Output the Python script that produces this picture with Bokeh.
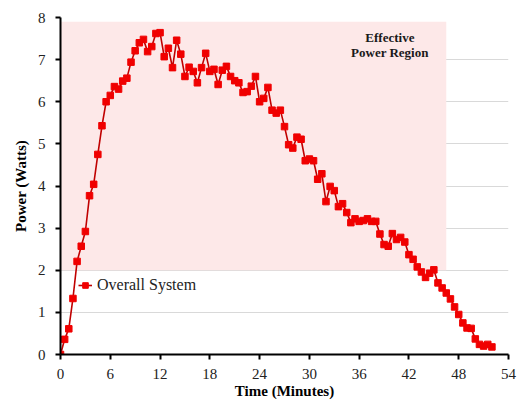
from bokeh.plotting import figure
from bokeh.models import Range1d, FixedTicker, Legend, LegendItem
from bokeh.core.properties import value
from bokeh.embed import file_html
from bokeh.resources import INLINE

time_min = [0, 0.5, 1, 1.5, 2, 2.5, 3, 3.5, 4, 4.5, 5, 5.5, 6, 6.5, 7, 7.5, 8, 8.5, 9, 9.5,
            10, 10.5, 11, 11.5, 12, 12.5, 13, 13.5, 14, 14.5, 15, 15.5, 16, 16.5, 17, 17.5,
            18, 18.5, 19, 19.5, 20, 20.5, 21, 21.5, 22, 22.5, 23, 23.5, 24, 24.5, 25, 25.5,
            26, 26.5, 27, 27.5, 28, 28.5, 29, 29.5, 30, 30.5, 31, 31.5, 32, 32.5, 33, 33.5,
            34, 34.5, 35, 35.5, 36, 36.5, 37, 37.5, 38, 38.5, 39, 39.5, 40, 40.5, 41, 41.5,
            42, 42.5, 43, 43.5, 44, 44.5, 45, 45.5, 46, 46.5, 47, 47.5, 48, 48.5, 49, 49.5,
            50, 50.5, 51, 51.5, 52]
power_w = [0.0, 0.36, 0.61, 1.33, 2.21, 2.57, 2.92, 3.77, 4.04, 4.75, 5.43, 6.00, 6.15, 6.36,
           6.30, 6.49, 6.56, 6.94, 7.21, 7.40, 7.48, 7.19, 7.31, 7.62, 7.64, 7.07, 7.27, 6.81,
           7.46, 7.13, 6.60, 6.82, 6.72, 6.45, 6.81, 7.15, 6.72, 6.77, 6.41, 6.75, 6.84, 6.60,
           6.50, 6.45, 6.22, 6.24, 6.37, 6.60, 6.00, 6.08, 6.34, 5.80, 5.73, 5.80, 5.41, 4.98,
           4.90, 5.16, 5.11, 4.60, 4.64, 4.60, 4.16, 4.29, 3.63, 3.99, 3.89, 3.51, 3.58, 3.37,
           3.13, 3.22, 3.16, 3.18, 3.22, 3.16, 3.16, 2.86, 2.61, 2.57, 2.87, 2.73, 2.78, 2.67,
           2.37, 2.26, 2.08, 1.96, 1.83, 1.93, 2.01, 1.70, 1.58, 1.46, 1.32, 1.13, 0.95, 0.75,
           0.63, 0.62, 0.37, 0.24, 0.20, 0.24, 0.18]

region_x = [0, 46.5]
region_y = [2, 7.9]
region_label_lines = ["Effective", "Power Region"]
region_label_x = [39.7, 39.7]
region_label_y = [7.53, 7.17]

x_ticks = [0, 6, 12, 18, 24, 30, 36, 42, 48, 54]
y_ticks = [0, 1, 2, 3, 4, 5, 6, 7, 8]

FONT = "Liberation Serif"

p = figure(width=522, height=401, output_backend="svg", toolbar_location=None,
           x_range=Range1d(0, 54), y_range=Range1d(0, 8),
           min_border_left=60, min_border_right=14, min_border_top=17, min_border_bottom=46)
p.outline_line_color = None
p.background_fill_color = "white"

p.quad(left=[region_x[0]], right=[region_x[1]], bottom=[region_y[0]], top=[region_y[1]],
       fill_color="#FDE8E8", line_color=None)

p.xgrid.visible = False
p.ygrid.ticker = FixedTicker(ticks=y_ticks)
p.ygrid.grid_line_color = "#D9D9D9"
p.ygrid.grid_line_width = 1

ln = p.line(time_min, power_w, line_color="#C00000", line_width=1.6)
sc = p.scatter(time_min, power_w, marker="square", size=6.5, fill_color="#F00000",
               line_color="#F00000")

p.text(x=region_label_x, y=region_label_y, text=region_label_lines,
       text_font=value(FONT), text_font_style="bold", text_font_size="13px",
       text_align="center", text_baseline="middle", text_color="#1a1a1a")

for ax in (p.xaxis[0], p.yaxis[0]):
    ax.axis_line_color = "black"
    ax.axis_line_width = 2
    ax.major_tick_line_color = "black"
    ax.major_tick_line_width = 2
    ax.major_tick_out = 5
    ax.major_tick_in = 0
    ax.minor_tick_line_color = None
    ax.major_label_text_font = FONT
    ax.major_label_text_font_size = "15px"
    ax.major_label_text_color = "#222222"
    ax.axis_label_text_font = FONT
    ax.axis_label_text_font_style = "bold"
    ax.axis_label_text_font_size = "15px"
    ax.axis_label_text_color = "black"

p.xaxis.ticker = FixedTicker(ticks=x_ticks)
p.yaxis.ticker = FixedTicker(ticks=y_ticks)
p.xaxis.axis_label = "Time (Minutes)"
p.yaxis.axis_label = "Power (Watts)"
p.xaxis.major_label_standoff = 9
p.xaxis.axis_label_standoff = 1
p.yaxis.major_label_standoff = 10
p.yaxis.axis_label_standoff = 6

legend = Legend(items=[LegendItem(label="Overall System", renderers=[ln, sc])],
                location=(18, 60), padding=0, margin=0, spacing=0,
                glyph_width=14, glyph_height=16, label_standoff=5,
                label_text_font=FONT, label_text_font_size="16px",
                label_text_color="#222222",
                background_fill_alpha=0, border_line_color=None)
p.add_layout(legend, "center")

open("out.html", "w").write(file_html(p, INLINE))
